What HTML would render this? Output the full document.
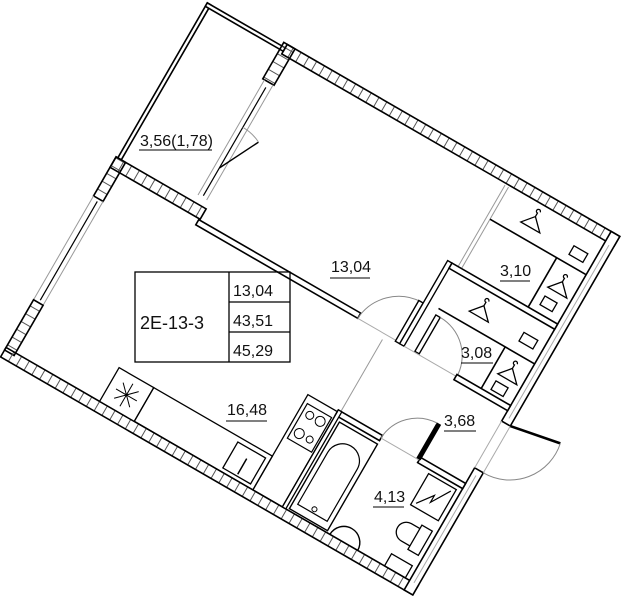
<!DOCTYPE html>
<html><head><meta charset="utf-8"><style>
html,body{margin:0;padding:0;background:#fff;}
svg{display:block;}
text{font-family:"Liberation Sans",sans-serif;fill:#111;}
</style></head><body>
<svg width="629" height="600" viewBox="0 0 629 600" xmlns="http://www.w3.org/2000/svg">
<defs>
<pattern id="hv" patternUnits="userSpaceOnUse" width="9" height="20"><line x1="1" y1="0" x2="1" y2="20" stroke="#555" stroke-width="1"/></pattern>
<pattern id="hh" patternUnits="userSpaceOnUse" width="20" height="9"><line x1="0" y1="1" x2="20" y2="1" stroke="#555" stroke-width="1"/></pattern>
</defs>
<g transform="translate(213,5) rotate(30)" fill="none" stroke="#000" stroke-width="1.6">
 <!-- balcony -->
 <rect x="-6" y="1" width="4" height="179" fill="#fff"/>
 <rect x="-6" y="1" width="90" height="4" fill="#fff"/>
 <rect x="80" y="-3" width="13" height="42" fill="url(#hh)"/>
 <line x1="82" y1="39" x2="82" y2="172" stroke="#999" stroke-width="1"/>
 <line x1="92" y1="39" x2="92" y2="172" stroke="#999" stroke-width="1"/>
 <line x1="87" y1="45" x2="87" y2="170" stroke-width="1.2"/>
 <line x1="87" y1="138" x2="108" y2="96" stroke-width="1.4"/>
 <path d="M108 96 A47 47 0 0 0 87 91" stroke="#999" stroke-width="1"/>
 <!-- top wall -->
 <rect x="84" y="-3" width="384" height="11" fill="url(#hv)"/>
 <!-- balcony/living wall -->
 <rect x="-8" y="180" width="104" height="12" fill="url(#hv)"/>
 <!-- left wall -->
 <rect x="-8" y="180" width="11" height="45" fill="url(#hh)"/>
 <line x1="-8" y1="225" x2="-8" y2="345" stroke="#999" stroke-width="1"/>
 <line x1="3" y1="225" x2="3" y2="345" stroke="#999" stroke-width="1"/>
 <line x1="-2" y1="228" x2="-2" y2="342" stroke-width="1.2"/>
 <rect x="-8" y="345" width="11" height="58" fill="url(#hh)"/>
 <!-- bottom wall -->
 <rect x="-8" y="400" width="476" height="11" fill="url(#hv)"/>
 <!-- right wall -->
 <rect x="458" y="-3" width="10" height="219" fill="#fff"/>
 <line x1="463" y1="10" x2="463" y2="210" stroke="#aaa" stroke-width="1"/>
 <rect x="458" y="270" width="10" height="141" fill="#fff"/>
 <line x1="463" y1="276" x2="463" y2="400" stroke="#aaa" stroke-width="1"/>
 <line x1="458" y1="216" x2="458" y2="270" stroke="#aaa" stroke-width="1"/>
 <line x1="468" y1="216" x2="468" y2="270" stroke="#aaa" stroke-width="1"/>
 <!-- entry door -->
 <line x1="468" y1="216" x2="520" y2="206" stroke-width="2.6"/>
 <path d="M520 206 A53 53 0 0 1 468 270" stroke="#888" stroke-width="1"/>
 <!-- bedroom / living partition -->
 <rect x="95" y="193" width="187" height="6" fill="#fff"/>
 <line x1="282" y1="199" x2="331" y2="199" stroke="#aaa" stroke-width="1"/>
 <path d="M282 199 A49 49 0 0 1 329 153" stroke="#888" stroke-width="1"/>
 <rect x="326" y="153" width="5" height="47" fill="#fff" stroke-width="1.4"/>
 <rect x="331" y="104" width="5" height="96" fill="#fff" stroke-width="1.4"/>
 <!-- closet 3,10 -->
 <line x1="343" y1="10" x2="343" y2="104" stroke="#999" stroke-width="1"/>
 <line x1="347" y1="10" x2="347" y2="104" stroke="#999" stroke-width="1"/>
 <rect x="336" y="104" width="122" height="6" fill="#fff"/>
 <line x1="347" y1="47" x2="458" y2="47"/>
 <line x1="424" y1="47" x2="424" y2="104"/>
 <!-- closet 3,08 -->
 <rect x="348" y="157" width="5" height="42" fill="#fff" stroke-width="1.4"/>
 <path d="M353 157 A44 44 0 0 1 397 201" stroke="#888" stroke-width="1"/>
 <line x1="336" y1="200" x2="397" y2="200" stroke="#aaa" stroke-width="1"/>
 <rect x="396" y="198" width="62" height="6" fill="#fff"/>
 <line x1="347" y1="150" x2="458" y2="150"/>
 <line x1="424" y1="150" x2="424" y2="198"/>
 <!-- hangers -->
 <g stroke-width="1.3">
  <path d="M385 22 l-10 12 h22 z M385 22 v-4 a2 2 0 1 1 2 -2"/>
  <path d="M385 125 l-10 12 h22 z M385 125 v-4 a2 2 0 1 1 2 -2"/>
  <path d="M441 65 l-10 12 h22 z M441 65 v-4 a2 2 0 1 1 2 -2"/>
  <path d="M441 165 l-10 12 h22 z M441 165 v-4 a2 2 0 1 1 2 -2"/>
  <rect x="433" y="28" width="16" height="10"/><rect x="433" y="128" width="16" height="10"/>
  <rect x="433" y="86" width="14" height="10"/><rect x="433" y="184" width="14" height="10"/>
 </g>
 <!-- hall/living gray boundary -->
 <line x1="314" y1="205" x2="314" y2="290" stroke="#999" stroke-width="1"/>
 <!-- bathroom walls -->
 <rect x="311" y="288" width="51" height="6" fill="#fff"/>
 <rect x="406" y="288" width="52" height="6" fill="#fff"/>
 <line x1="362" y1="291" x2="406" y2="291" stroke="#aaa" stroke-width="1"/>
 <rect x="403" y="250" width="4" height="40" fill="#000" stroke-width="1"/>
 <path d="M362 291 A43 43 0 0 1 403 250" stroke="#888" stroke-width="1"/>
 <rect x="311" y="288" width="4" height="112" fill="#fff" stroke-width="1.3"/>
 <!-- bath tub -->
 <rect x="318" y="298" width="44" height="100" stroke-width="1.4"/>
 <path d="M323 330 A17 17 0 0 1 357 330 V390 H323 Z" stroke-width="1.2"/>
 <circle cx="340" cy="386" r="2.5" stroke-width="1"/>
 <!-- basin -->
 <path d="M366 400 A16 16 0 0 1 398 400" stroke-width="1.4"/>
 <!-- toilet -->
 <rect x="441" y="346" width="12" height="28" stroke-width="1.3"/>
 <path d="M441 350 h-10 a10 10 0 0 0 0 20 h10" stroke-width="1.3"/>
 <!-- electric box -->
 <rect x="421" y="298" width="32" height="36" stroke-width="1.3"/>
 <path d="M425 330 l12 -16 v8 l12 -20" stroke-width="1.2"/>
 <rect x="429" y="386" width="24" height="14" stroke-width="1.3"/>
 <!-- kitchen -->
 <rect x="100" y="361" width="40" height="39" fill="#fff" stroke-width="1.3"/>
 <path d="M120 368 v26 M108 381 h24 M111 372 l18 18 M129 372 l-18 18" stroke-width="1"/>
 <rect x="140" y="361" width="137" height="39" stroke-width="1.3"/>
 <rect x="240" y="366" width="32" height="30" stroke-width="1.3"/>
 <line x1="256" y1="376" x2="256" y2="394" stroke-width="1.5"/>
 <rect x="277" y="290" width="34" height="110" stroke-width="1.3"/>
 <rect x="281" y="298" width="28" height="40" stroke-width="1.2"/>
 <circle cx="289" cy="307" r="4" stroke-width="1"/><circle cx="301" cy="307" r="5" stroke-width="1"/>
 <circle cx="289" cy="328" r="5" stroke-width="1"/><circle cx="301" cy="328" r="3.5" stroke-width="1"/>
</g>
<!-- summary box -->
<g stroke="#000" stroke-width="1.3" fill="none">
 <rect x="135" y="272" width="155" height="90"/>
 <line x1="229" y1="272" x2="229" y2="362"/>
 <line x1="229" y1="302" x2="290" y2="302"/>
 <line x1="229" y1="332" x2="290" y2="332"/>
</g>
<text x="140" y="329" font-size="18">2E-13-3</text>
<text x="233" y="296" font-size="16">13,04</text>
<text x="233" y="326" font-size="16">43,51</text>
<text x="233" y="356" font-size="16">45,29</text>
<!-- labels -->
<g font-size="16">
<text x="140" y="146">3,56(1,78)</text>
<text x="331" y="272">13,04</text>
<text x="500" y="276">3,10</text>
<text x="461" y="358">3,08</text>
<text x="227" y="415">16,48</text>
<text x="444" y="426">3,68</text>
<text x="374" y="502">4,13</text>
</g>
<g stroke="#000" stroke-width="1">
<line x1="139" y1="150" x2="212" y2="150"/>
<line x1="330" y1="278" x2="370" y2="278"/>
<line x1="500" y1="281" x2="530" y2="281"/>
<line x1="461" y1="363" x2="493" y2="363"/>
<line x1="226" y1="421" x2="267" y2="421"/>
<line x1="444" y1="431" x2="476" y2="431"/>
<line x1="373" y1="507" x2="404" y2="507"/>
</g>
</svg>
</body></html>
